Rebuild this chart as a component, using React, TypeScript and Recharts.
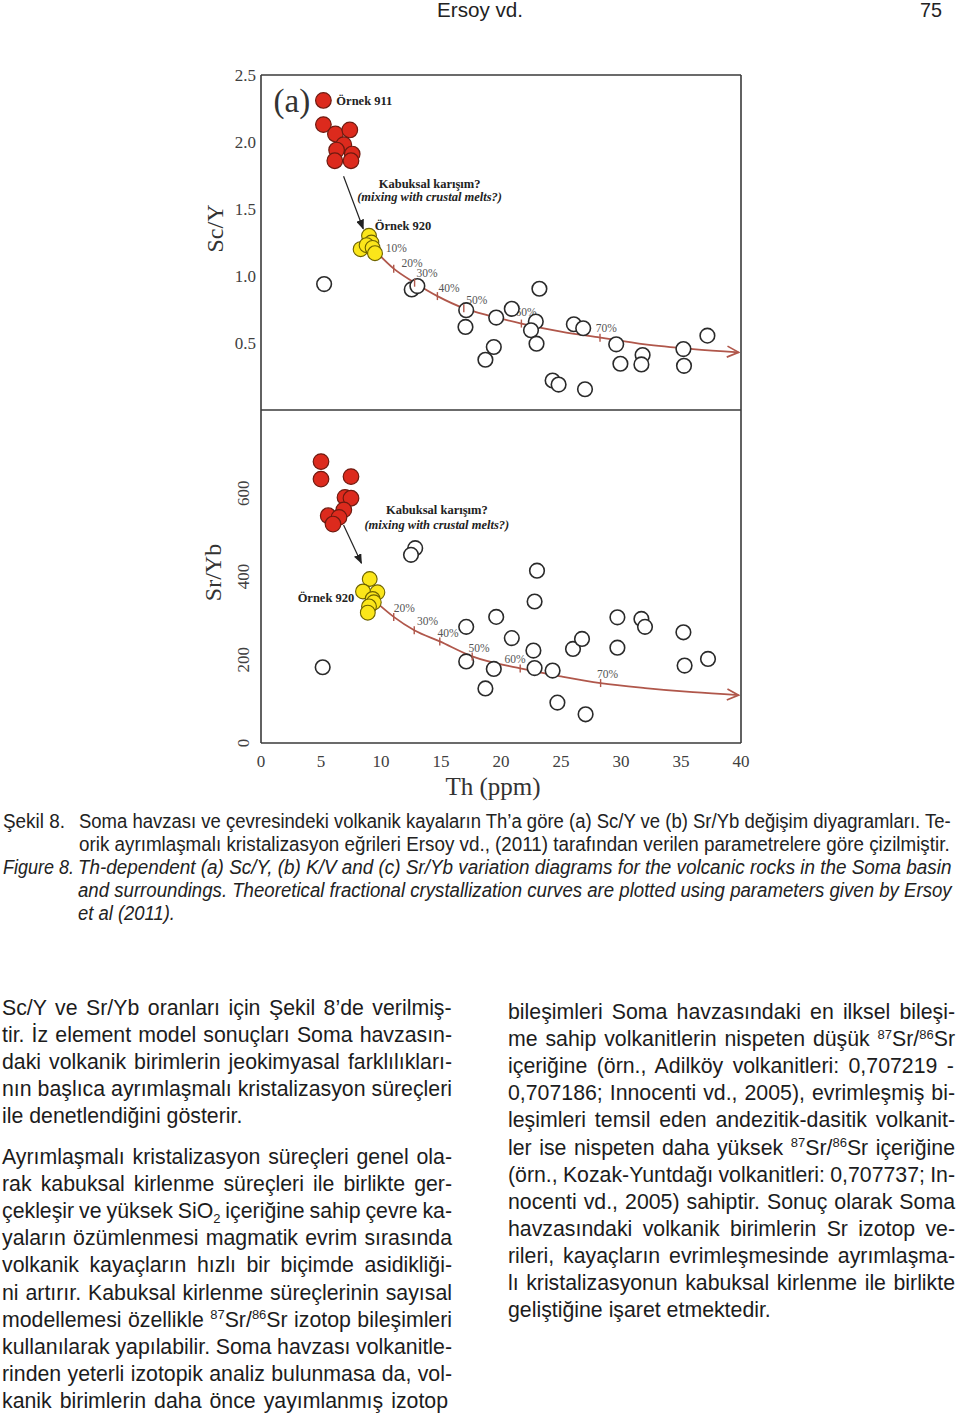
import React from 'react';
import { ComposedChart, Scatter, Line, XAxis, YAxis } from 'recharts';

// ---------------- Axis ticks ----------------
const thTicksInner = [5, 10, 15, 20, 25, 30, 35];
const thTickLabels = [0, 5, 10, 15, 20, 25, 30, 35, 40];
const scYTicksInner = [0.5, 1.0, 1.5, 2.0];
const scYTickLabels = [0.5, 1.0, 1.5, 2.0, 2.5];
const srYbTicksInner = [100, 200, 300, 400, 500, 600, 700];
const srYbTickLabels = [0, 200, 400, 600];

// ---------------- Panel (a): Sc/Y vs Th ----------------
const scYRed = [
  { x: 5.2, y: 2.31 }, { x: 5.2, y: 2.13 }, { x: 6.2, y: 2.06 }, { x: 7.4, y: 2.09 },
  { x: 6.9, y: 1.98 }, { x: 6.3, y: 1.94 }, { x: 7.6, y: 1.91 }, { x: 6.15, y: 1.86 }, { x: 7.5, y: 1.86 },
];
const scYYellow = [
  { x: 9.0, y: 1.30 }, { x: 8.3, y: 1.20 }, { x: 9.2, y: 1.25 }, { x: 8.8, y: 1.23 },
  { x: 9.3, y: 1.21 }, { x: 9.5, y: 1.17 },
];
const scYOpen = [
  { x: 5.26, y: 0.94 }, { x: 12.56, y: 0.90 }, { x: 13.03, y: 0.925 }, { x: 23.2, y: 0.905 },
  { x: 17.1, y: 0.745 }, { x: 17.04, y: 0.62 }, { x: 19.6, y: 0.69 }, { x: 20.9, y: 0.755 },
  { x: 22.9, y: 0.66 }, { x: 22.5, y: 0.595 }, { x: 22.96, y: 0.495 }, { x: 19.4, y: 0.47 },
  { x: 18.7, y: 0.375 }, { x: 26.07, y: 0.64 }, { x: 26.85, y: 0.61 }, { x: 29.6, y: 0.49 },
  { x: 29.95, y: 0.345 }, { x: 31.8, y: 0.41 }, { x: 31.7, y: 0.34 }, { x: 35.2, y: 0.455 },
  { x: 35.25, y: 0.33 }, { x: 37.2, y: 0.555 }, { x: 24.3, y: 0.22 }, { x: 24.8, y: 0.19 },
  { x: 27.0, y: 0.155 },
];
const scYCurve = [
  { x: 9.6, y: 1.18 }, { x: 11.06, y: 1.055 }, { x: 12.8, y: 0.95 }, { x: 14.7, y: 0.85 },
  { x: 16.9, y: 0.76 }, { x: 19.2, y: 0.70 }, { x: 21.7, y: 0.645 }, { x: 25.0, y: 0.585 },
  { x: 28.25, y: 0.54 }, { x: 32.0, y: 0.49 }, { x: 36.0, y: 0.455 }, { x: 39.8, y: 0.43 },
];
const scYCurveTicks = [
  { x: 11.06, y: 1.055 }, { x: 12.8, y: 0.95 }, { x: 14.7, y: 0.85 }, { x: 16.9, y: 0.76 },
  { x: 21.7, y: 0.645 }, { x: 28.25, y: 0.54 },
];
const scYPctLabels = [
  { x: 10.4, y: 1.21, t: '10%' }, { x: 11.7, y: 1.10, t: '20%' }, { x: 12.95, y: 1.02, t: '30%' },
  { x: 14.8, y: 0.91, t: '40%' }, { x: 17.1, y: 0.82, t: '50%' }, { x: 21.2, y: 0.73, t: '60%' },
  { x: 27.9, y: 0.61, t: '70%' },
];
const scYMixArrow = [{ x: 6.88, y: 1.744 }, { x: 8.52, y: 1.353 }];
const scYTag = [{ x: 1.05, y: 2.31, t: '(a)' }];
const scYSampleNotes = [{ x: 6.28, y: 2.31, t: 'Örnek 911' }, { x: 9.48, y: 1.373, t: 'Örnek 920' }];
const scYMixTitle = [{ x: 14.05, y: 1.69, t: 'Kabuksal karışım?' }];
const scYMixSub = [{ x: 14.05, y: 1.59, t: '(mixing with crustal melts?)' }];

// ---------------- Panel (b): Sr/Yb vs Th ----------------
const srYbRed = [
  { x: 5.0, y: 676 }, { x: 5.0, y: 634 }, { x: 7.5, y: 640 }, { x: 7.0, y: 590 }, { x: 7.5, y: 588 },
  { x: 6.9, y: 560 }, { x: 5.6, y: 546 }, { x: 6.5, y: 542 }, { x: 6.0, y: 526 },
];
const srYbYellow = [
  { x: 9.06, y: 394 }, { x: 9.7, y: 362 }, { x: 8.5, y: 364 }, { x: 9.3, y: 346 },
  { x: 9.4, y: 338 }, { x: 9.0, y: 328 }, { x: 8.9, y: 313 },
];
const srYbOpen = [
  { x: 12.85, y: 468 }, { x: 12.5, y: 452 }, { x: 23.0, y: 414 }, { x: 22.8, y: 340 },
  { x: 5.14, y: 182 }, { x: 17.1, y: 279 }, { x: 17.1, y: 196 }, { x: 19.6, y: 303 },
  { x: 19.4, y: 178 }, { x: 18.7, y: 131 }, { x: 20.9, y: 252 }, { x: 22.7, y: 222 },
  { x: 22.8, y: 180 }, { x: 24.3, y: 174 }, { x: 24.7, y: 97 }, { x: 27.05, y: 69 },
  { x: 26.0, y: 226 }, { x: 26.75, y: 250 }, { x: 29.7, y: 302 }, { x: 29.7, y: 229 },
  { x: 31.7, y: 298 }, { x: 32.0, y: 279 }, { x: 35.2, y: 266 }, { x: 35.3, y: 186 },
  { x: 37.25, y: 202 },
];
const srYbCurve = [
  { x: 9.8, y: 333 }, { x: 11.06, y: 303 }, { x: 12.77, y: 271 }, { x: 14.9, y: 244 },
  { x: 17.6, y: 208 }, { x: 21.6, y: 179 }, { x: 25.0, y: 160 }, { x: 28.3, y: 144 },
  { x: 32.0, y: 132 }, { x: 36.0, y: 122 }, { x: 39.8, y: 115 },
];
const srYbCurveTicks = [
  { x: 11.06, y: 303 }, { x: 12.77, y: 271 }, { x: 14.9, y: 244 }, { x: 17.6, y: 208 },
  { x: 21.6, y: 179 }, { x: 28.3, y: 144 },
];
const srYbPctLabels = [
  { x: 11.06, y: 325, t: '20%' }, { x: 13.0, y: 293, t: '30%' }, { x: 14.7, y: 265, t: '40%' },
  { x: 17.3, y: 229, t: '50%' }, { x: 20.3, y: 202, t: '60%' }, { x: 28.0, y: 167, t: '70%' },
];
const srYbMixArrow = [{ x: 6.88, y: 524 }, { x: 8.37, y: 432 }];
const srYbSampleNotes = [{ x: 7.77, y: 350, t: 'Örnek 920' }];
const srYbMixTitle = [{ x: 14.65, y: 560, t: 'Kabuksal karışım?' }];
const srYbMixSub = [{ x: 14.65, y: 524, t: '(mixing with crustal melts?)' }];

// ---------------- Styles ----------------
const SERIF = '"Liberation Serif", "Times New Roman", serif';
const SANS = '"Liberation Sans", Arial, sans-serif';
const AXIS = '#3a3a3a';
const CURVE = '#b0574b';
const TICKTXT = { fontFamily: SERIF, fontSize: 17, fill: '#404040' };

const circle = (fill: string, stroke: string, sw: number, r: number) => (p: any) =>
  <circle cx={p.cx} cy={p.cy} r={r} fill={fill} stroke={stroke} strokeWidth={sw} />;

const textShape = (style: any) => (p: any) =>
  <text x={p.cx} y={p.cy} dy="0.35em" {...style}>{p.payload.t}</text>;

const curveTick = (p: any) =>
  <line x1={p.cx} y1={p.cy - 4} x2={p.cx} y2={p.cy + 4} stroke={CURVE} strokeWidth={1.4} />;

const redShape = circle('#dc2a1d', '#6e1a10', 1.2, 7.8);
const yellowShape = circle('#fbe61a', '#6d6200', 1.1, 7.4);
const openShape = circle('#ffffff', '#2a2a2a', 1.6, 7.3);
const pctShape = textShape({ fontFamily: SERIF, fontSize: 11.5, fill: '#555', textAnchor: 'start' });
const sampleStart = textShape({ fontFamily: SERIF, fontSize: 12.5, fontWeight: 700, fill: '#222', textAnchor: 'start' });
const sampleEnd = textShape({ fontFamily: SERIF, fontSize: 12.5, fontWeight: 700, fill: '#222', textAnchor: 'end' });
const mixTitleShape = textShape({ fontFamily: SERIF, fontSize: 12.5, fontWeight: 700, fill: '#222', textAnchor: 'middle' });
const mixSubShape = textShape({ fontFamily: SERIF, fontSize: 12.5, fontWeight: 700, fontStyle: 'italic', fill: '#222', textAnchor: 'middle' });
const tagShape = textShape({ fontFamily: SERIF, fontSize: 33, fill: '#333', textAnchor: 'start' });

const axisLineStyle = { stroke: AXIS, strokeWidth: 1.6 };
const tickLineStyle = { stroke: AXIS, strokeWidth: 1.6 };

const RotTick = (p: any) => (
  <text x={p.x} y={p.y} dy="0.35em" textAnchor="middle" transform={`rotate(-90 ${p.x} ${p.y})`}
    fontFamily={SERIF} fontSize={17} fill="#404040">{p.payload.value}</text>
);

const yTitle = (title: string, dx: number, dyc: number) => (props: any) => {
  const vb = (props && props.viewBox) || {};
  const x = (vb.x ?? 201) + dx;
  const y = (vb.y ?? 0) + (vb.height ?? 0) / 2 + dyc;
  return (
    <text x={x} y={y} dy="0.35em" textAnchor="middle" transform={`rotate(-90 ${x} ${y})`}
      fontFamily={SERIF} fontSize={24} fill="#333">{title}</text>
  );
};

const xTitle = (props: any) => {
  const vb = (props && props.viewBox) || {};
  const x = (vb.x ?? 261) + (vb.width ?? 480) / 2 - 8;
  const y = (vb.y ?? 343) + 52;
  return <text x={x} y={y} textAnchor="middle" fontFamily={SERIF} fontSize={25} fill="#333">Th (ppm)</text>;
};

const Markers = ({ id }: { id: string }) => (
  <defs>
    <marker id={`curveArrow${id}`} markerUnits="userSpaceOnUse" markerWidth={14} markerHeight={14}
      viewBox="0 0 14 14" refX={12.5} refY={7} orient="auto">
      <path d="M1,1.5 L12.5,7 L1,12.5" fill="none" stroke={CURVE} strokeWidth={1.7} />
    </marker>
    <marker id={`mixArrow${id}`} markerUnits="userSpaceOnUse" markerWidth={10} markerHeight={8}
      viewBox="0 0 10 8" refX={9} refY={4} orient="auto">
      <path d="M0,0 L10,4 L0,8 z" fill="#222" />
    </marker>
  </defs>
);

function PanelA() {
  return (
    <ComposedChart width={960} height={420} margin={{ top: 75, right: 219, bottom: 10, left: 201 }}>
      <Markers id="A" />
      <XAxis xAxisId="x" dataKey="x" type="number" domain={[0, 40]} allowDataOverflow ticks={thTicksInner}
        interval={0} orientation="bottom" mirror tick={false} tickSize={8} axisLine={axisLineStyle} tickLine={tickLineStyle} />
      <XAxis xAxisId="xt" dataKey="x" type="number" domain={[0, 40]} allowDataOverflow ticks={thTicksInner}
        interval={0} orientation="top" mirror tick={false} tickSize={8} axisLine={axisLineStyle} tickLine={tickLineStyle} />
      <YAxis yAxisId="y" dataKey="y" type="number" domain={[0, 2.5]} allowDataOverflow ticks={scYTicksInner}
        interval={0} orientation="left" mirror tick={false} tickSize={8} axisLine={axisLineStyle} tickLine={tickLineStyle} />
      <YAxis yAxisId="yr" dataKey="y" type="number" domain={[0, 2.5]} allowDataOverflow ticks={scYTicksInner}
        interval={0} orientation="right" mirror tick={false} tickSize={8} axisLine={axisLineStyle} tickLine={tickLineStyle} />
      <YAxis yAxisId="yl" dataKey="y" type="number" domain={[0, 2.5]} allowDataOverflow ticks={scYTickLabels}
        interval={0} orientation="left" width={60} axisLine={false} tickLine={false} tickSize={0} tickMargin={5}
        tick={TICKTXT} tickFormatter={(v: number) => v.toFixed(1)} label={yTitle('Sc/Y', 14, -14)} />

      <Scatter xAxisId="x" yAxisId="y" data={scYPctLabels} shape={pctShape} isAnimationActive={false} />
      <Scatter xAxisId="x" yAxisId="y" data={scYOpen} shape={openShape} isAnimationActive={false} />
      <Line xAxisId="x" yAxisId="y" data={scYCurve} dataKey="y" type="monotone" stroke={CURVE} strokeWidth={1.8}
        dot={false} activeDot={false} markerEnd="url(#curveArrowA)" isAnimationActive={false} />
      <Scatter xAxisId="x" yAxisId="y" data={scYCurveTicks} shape={curveTick} isAnimationActive={false} />
      <Scatter xAxisId="x" yAxisId="y" data={scYYellow} shape={yellowShape} isAnimationActive={false} />
      <Scatter xAxisId="x" yAxisId="y" data={scYRed} shape={redShape} isAnimationActive={false} />
      <Line xAxisId="x" yAxisId="y" data={scYMixArrow} dataKey="y" type="linear" stroke="#222" strokeWidth={1.2}
        dot={false} activeDot={false} markerEnd="url(#mixArrowA)" isAnimationActive={false} />
      <Scatter xAxisId="x" yAxisId="y" data={scYTag} shape={tagShape} isAnimationActive={false} />
      <Scatter xAxisId="x" yAxisId="y" data={scYSampleNotes} shape={sampleStart} isAnimationActive={false} />
      <Scatter xAxisId="x" yAxisId="y" data={scYMixTitle} shape={mixTitleShape} isAnimationActive={false} />
      <Scatter xAxisId="x" yAxisId="y" data={scYMixSub} shape={mixSubShape} isAnimationActive={false} />
    </ComposedChart>
  );
}

function PanelB() {
  return (
    <ComposedChart width={960} height={440} margin={{ top: 10, right: 219, bottom: 47, left: 201 }}>
      <Markers id="B" />
      <XAxis xAxisId="x" dataKey="x" type="number" domain={[0, 40]} allowDataOverflow ticks={thTicksInner}
        interval={0} orientation="bottom" mirror tick={false} tickSize={8} axisLine={axisLineStyle} tickLine={tickLineStyle} />
      <XAxis xAxisId="xl" dataKey="x" type="number" domain={[0, 40]} allowDataOverflow ticks={thTickLabels}
        interval={0} orientation="bottom" height={50} axisLine={false} tickLine={false} tickSize={0} tickMargin={12}
        tick={TICKTXT} label={xTitle} />
      <YAxis yAxisId="y" dataKey="y" type="number" domain={[0, 800]} allowDataOverflow ticks={srYbTicksInner}
        interval={0} orientation="left" mirror tick={false} tickSize={8} axisLine={axisLineStyle} tickLine={tickLineStyle} />
      <YAxis yAxisId="yr" dataKey="y" type="number" domain={[0, 800]} allowDataOverflow ticks={srYbTicksInner}
        interval={0} orientation="right" mirror tick={false} tickSize={8} axisLine={axisLineStyle} tickLine={tickLineStyle} />
      <YAxis yAxisId="yl" dataKey="y" type="number" domain={[0, 800]} allowDataOverflow ticks={srYbTickLabels}
        interval={0} orientation="left" width={60} axisLine={false} tickLine={false} tickSize={0} tickMargin={18}
        tick={RotTick} label={yTitle('Sr/Yb', 12, -4)} />

      <Scatter xAxisId="x" yAxisId="y" data={srYbPctLabels} shape={pctShape} isAnimationActive={false} />
      <Scatter xAxisId="x" yAxisId="y" data={srYbOpen} shape={openShape} isAnimationActive={false} />
      <Line xAxisId="x" yAxisId="y" data={srYbCurve} dataKey="y" type="monotone" stroke={CURVE} strokeWidth={1.8}
        dot={false} activeDot={false} markerEnd="url(#curveArrowB)" isAnimationActive={false} />
      <Scatter xAxisId="x" yAxisId="y" data={srYbCurveTicks} shape={curveTick} isAnimationActive={false} />
      <Scatter xAxisId="x" yAxisId="y" data={srYbYellow} shape={yellowShape} isAnimationActive={false} />
      <Scatter xAxisId="x" yAxisId="y" data={srYbRed} shape={redShape} isAnimationActive={false} />
      <Line xAxisId="x" yAxisId="y" data={srYbMixArrow} dataKey="y" type="linear" stroke="#222" strokeWidth={1.2}
        dot={false} activeDot={false} markerEnd="url(#mixArrowB)" isAnimationActive={false} />
      <Scatter xAxisId="x" yAxisId="y" data={srYbSampleNotes} shape={sampleEnd} isAnimationActive={false} />
      <Scatter xAxisId="x" yAxisId="y" data={srYbMixTitle} shape={mixTitleShape} isAnimationActive={false} />
      <Scatter xAxisId="x" yAxisId="y" data={srYbMixSub} shape={mixSubShape} isAnimationActive={false} />
    </ComposedChart>
  );
}

// ---------------- Page text ----------------
type Seg = { t: string; k?: 'sup' | 'sub' };
const P = (t: string): Seg => ({ t });
const SUP = (t: string): Seg => ({ t, k: 'sup' });
const SUB = (t: string): Seg => ({ t, k: 'sub' });

const BODY = 21.3;
const SMALL = 13;
let measureCtx: CanvasRenderingContext2D | null = null;
function measure(text: string, size: number, italic = false) {
  if (!measureCtx) measureCtx = document.createElement('canvas').getContext('2d');
  if (!measureCtx) return text.length * size * 0.5;
  measureCtx.font = `${italic ? 'italic ' : ''}${size}px "Liberation Sans"`;
  return measureCtx.measureText(text).width;
}

function BodyLine({ x, y, w, segs, justify = true }: { x: number; y: number; w: number; segs: Seg[]; justify?: boolean }) {
  let natural = 0;
  let spaces = 0;
  segs.forEach((s) => {
    natural += measure(s.t, s.k ? SMALL : BODY);
    spaces += (s.t.match(/ /g) || []).length;
  });
  const ws = justify && spaces ? (w - natural) / spaces : 0;
  let cur = 0;
  return (
    <text x={x} y={y} fontFamily={SANS} fontSize={BODY} fill="#1c1c1c" style={{ wordSpacing: `${ws}px` }}>
      {segs.map((s, i) => {
        const target = s.k === 'sup' ? -7.5 : s.k === 'sub' ? 5 : 0;
        const dy = target - cur;
        cur = target;
        return <tspan key={i} dy={dy} fontSize={s.k ? SMALL : BODY}>{s.t}</tspan>;
      })}
    </text>
  );
}

// Condensed caption line: font size fitted to the target width, glyphs stretched vertically
function CapLine({ x, y, w, text, italic = false, base = 19.5, anchor = 'start' }:
  { x: number; y: number; w: number; text: string; italic?: boolean; base?: number; anchor?: string }) {
  const natural = measure(text, base, italic);
  const fs = base * (w / natural);
  const sy = base / fs;
  return (
    <text x={x} y={y} fontFamily={SANS} fontSize={fs} fill="#222" fontStyle={italic ? 'italic' : 'normal'}
      textAnchor={anchor} transform={`matrix(1 0 0 ${sy} 0 ${y * (1 - sy)})`}>{text}</text>
  );
}

const leftLines: Seg[][] = [
  [P('Sc/Y ve Sr/Yb oranları için Şekil 8’de verilmiş-')],
  [P('tir. İz element model sonuçları Soma havzasın-')],
  [P('daki volkanik birimlerin jeokimyasal farklılıkları-')],
  [P('nın başlıca ayrımlaşmalı kristalizasyon süreçleri')],
  [P('ile denetlendiğini gösterir.')],
  [P('Ayrımlaşmalı kristalizasyon süreçleri genel ola-')],
  [P('rak kabuksal kirlenme süreçleri ile birlikte ger-')],
  [P('çekleşir ve yüksek SiO'), SUB('2'), P(' içeriğine sahip çevre ka-')],
  [P('yaların özümlenmesi magmatik evrim sırasında')],
  [P('volkanik kayaçların hızlı bir biçimde asidikliği-')],
  [P('ni artırır. Kabuksal kirlenme süreçlerinin sayısal')],
  [P('modellemesi özellikle '), SUP('87'), P('Sr/'), SUP('86'), P('Sr izotop bileşimleri')],
  [P('kullanılarak yapılabilir. Soma havzası volkanitle-')],
  [P('rinden yeterli izotopik analiz bulunmasa da, vol-')],
  [P('kanik birimlerin daha önce yayımlanmış izotop')],
];
const rightLines: Seg[][] = [
  [P('bileşimleri Soma havzasındaki en ilksel bileşi-')],
  [P('me sahip volkanitlerin nispeten düşük '), SUP('87'), P('Sr/'), SUP('86'), P('Sr')],
  [P('içeriğine (örn., Adilköy volkanitleri: 0,707219 -')],
  [P('0,707186; Innocenti vd., 2005), evrimleşmiş bi-')],
  [P('leşimleri temsil eden andezitik-dasitik volkanit-')],
  [P('ler ise nispeten daha yüksek '), SUP('87'), P('Sr/'), SUP('86'), P('Sr içeriğine')],
  [P('(örn., Kozak-Yuntdağı volkanitleri: 0,707737; In-')],
  [P('nocenti vd., 2005) sahiptir. Sonuç olarak Soma')],
  [P('havzasındaki volkanik birimlerin Sr izotop ve-')],
  [P('rileri, kayaçların evrimleşmesinde ayrımlaşma-')],
  [P('lı kristalizasyonun kabuksal kirlenme ile birlikte')],
  [P('geliştiğine işaret etmektedir.')],
];

function PageText() {
  const leftY = (i: number) => (i < 5 ? 1015 + i * 27.1 : 1164 + (i - 5) * 27.1);
  return (
    <svg width={960} height={1416} style={{ position: 'absolute', left: 0, top: 0, pointerEvents: 'none' }}>
      <CapLine x={480} y={17} w={86} text="Ersoy vd." base={20} anchor="middle" />
      <CapLine x={942} y={17} w={22} text="75" base={20} anchor="end" />

      <CapLine x={3} y={828} w={62} text="Şekil 8." />
      <CapLine x={79} y={828} w={873} text="Soma havzası ve çevresindeki volkanik kayaların Th’a göre (a) Sc/Y ve (b) Sr/Yb değişim diyagramları. Te-" />
      <CapLine x={79} y={851} w={871} text="orik ayrımlaşmalı kristalizasyon eğrileri Ersoy vd., (2011) tarafından verilen parametrelere göre çizilmiştir." />
      <CapLine x={3} y={874} w={71} text="Figure 8." italic />
      <CapLine x={78} y={874} w={874} text="Th-dependent (a) Sc/Y, (b) K/V and (c) Sr/Yb variation diagrams for the volcanic rocks in the Soma basin" italic />
      <CapLine x={78} y={897} w={874} text="and surroundings. Theoretical fractional crystallization curves are plotted using parameters given by Ersoy" italic />
      <CapLine x={78} y={920} w={97} text="et al (2011)." italic />

      {leftLines.map((segs, i) => (
        <BodyLine key={`l${i}`} x={2} y={leftY(i)} w={i === 14 ? 446 : 450} segs={segs} justify={i !== 4} />
      ))}
      {rightLines.map((segs, i) => (
        <BodyLine key={`r${i}`} x={508} y={1019 + i * 27.1} w={447} segs={segs} justify={i !== 11} />
      ))}
    </svg>
  );
}

export default function App() {
  return (
    <div style={{ position: 'absolute', left: 0, top: 0, width: 960, height: 1416, background: '#fff', overflow: 'hidden' }}>
      <div style={{ position: 'absolute', left: 0, top: 0 }}>
        <PanelA />
      </div>
      <div style={{ position: 'absolute', left: 0, top: 400 }}>
        <PanelB />
      </div>
      <PageText />
    </div>
  );
}
